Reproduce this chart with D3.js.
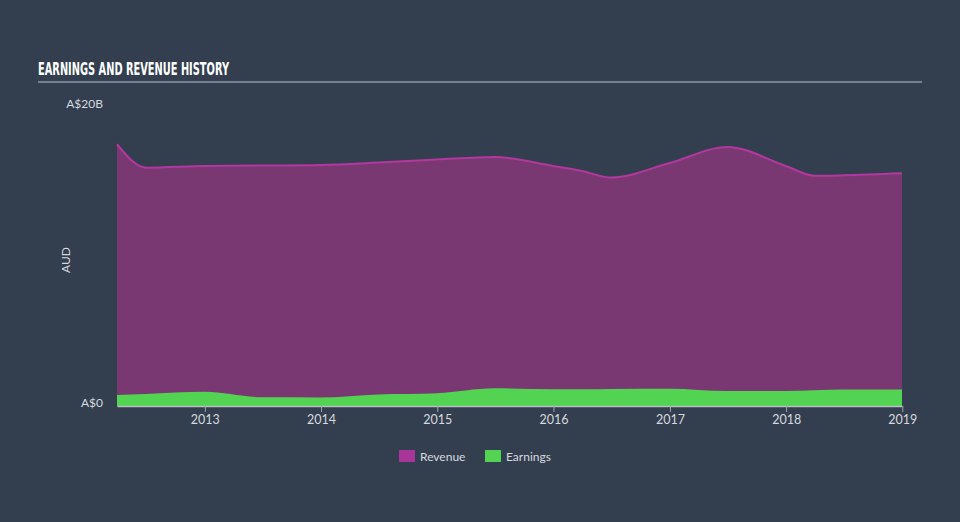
<!DOCTYPE html>
<html><head><meta charset="utf-8">
<script src="https://cdn.jsdelivr.net/npm/d3@7"></script>
<style>
html,body{margin:0;padding:0;background:#333f4f;}
svg{display:block;}
</style></head>
<body>
<svg id="chart" width="960" height="522"></svg>
<script>
const dates = ["2012-03-31","2012-06-30","2012-12-31","2013-06-30","2013-12-31","2014-06-30","2014-12-31","2015-06-30","2015-12-31","2016-03-31","2016-06-30","2016-12-31","2017-06-30","2017-12-31","2018-03-31","2018-06-30","2018-12-31"];
const revenue = [17.45,15.89,16.0,16.03,16.07,16.23,16.43,16.6,16.0,15.67,15.23,16.2,17.27,16.0,15.35,15.38,15.51];
const earnings = [0.73,0.8,0.95,0.58,0.57,0.77,0.85,1.18,1.11,1.11,1.13,1.15,1.0,1.0,1.05,1.1,1.1];
const yTickValues = [0, 20];
const yTickLabels = ["A$0", "A$20B"];
const xTickYears = [2013,2014,2015,2016,2017,2018,2019];
const seriesNames = ["Revenue","Earnings"];

const parse = d3.timeParse("%Y-%m-%d");
const data = dates.map((d,i)=>({date:parse(d), rev:revenue[i], earn:earnings[i]}));

const svg = d3.select("#chart");
const x = d3.scaleTime().domain([parse("2012-03-31"), parse("2018-12-31")]).range([117, 902]);
const y = d3.scaleLinear().domain([0, 20]).range([406, 106]);

// Title
svg.append("text").attr("x",38).attr("y",75)
  .attr("font-family","'DejaVu Sans Condensed','Liberation Sans Narrow','DejaVu Sans',sans-serif")
  .attr("font-weight","bold").attr("font-size",17.5).attr("fill","#ffffff")
  .attr("textLength",191).attr("lengthAdjust","spacingAndGlyphs")
  .text("EARNINGS AND REVENUE HISTORY");
svg.append("line").attr("x1",38).attr("x2",922).attr("y1",82).attr("y2",82)
  .attr("stroke","#8d98a5").attr("stroke-width",1.5);

const curve = d3.curveMonotoneX;
const areaRev = d3.area().x(d=>x(d.date)).y0(y(0)).y1(d=>y(d.rev)).curve(curve);
const lineRev = d3.line().x(d=>x(d.date)).y(d=>y(d.rev)).curve(curve);
const areaEarn = d3.area().x(d=>x(d.date)).y0(y(0)).y1(d=>y(d.earn)).curve(curve);

svg.append("path").datum(data).attr("d",areaRev).attr("fill","#7a3873");
svg.append("path").datum(data).attr("d",lineRev).attr("fill","none").attr("stroke","#b2389f").attr("stroke-width",2);
svg.append("path").datum(data).attr("d",areaEarn).attr("fill","#52d452");

// x axis
const xAxis = d3.axisBottom(x)
  .tickValues(xTickYears.map(yr=>new Date(yr,0,1)))
  .tickFormat(d3.timeFormat("%Y")).tickSize(6).tickSizeOuter(0);
const gx = svg.append("g").attr("transform",`translate(0,${y(0)})`).call(xAxis);
gx.select(".domain").attr("stroke","#b9c0c8").attr("stroke-width",1.5);
gx.selectAll(".tick line").attr("stroke","#9aa4af");
gx.selectAll(".tick text").attr("fill","#d5d9de").attr("font-size",12.5)
  .attr("font-family","Lato,'Open Sans',sans-serif").attr("y",7).attr("dy","0.85em");

// y labels
const gy = svg.append("g");
const yAxis = d3.axisLeft(y).tickValues(yTickValues).tickFormat((d,i)=>yTickLabels[i]).tickSize(0);
gy.attr("transform","translate(103,0)").call(yAxis);
gy.select(".domain").remove();
gy.selectAll(".tick text").attr("fill","#d5d9de").attr("font-size",12)
  .attr("font-family","Lato,'Open Sans',sans-serif").attr("x",0)
  .attr("dy",(d)=> d===0 ? "0.05em" : "0.15em");

svg.append("text").attr("transform","translate(70,260) rotate(-90)")
  .attr("text-anchor","middle").attr("fill","#d5d9de").attr("font-size",12)
  .attr("font-family","Lato,'Open Sans',sans-serif").text("AUD");

// legend
const legendColors = ["#a8359a","#52d452"];
const legendX = [399, 485];
seriesNames.forEach((n,i)=>{
  svg.append("rect").attr("x",legendX[i]).attr("y",450).attr("width",16).attr("height",12).attr("fill",legendColors[i]);
  svg.append("text").attr("x",legendX[i]+21).attr("y",460.5).attr("fill","#d5d9de")
    .attr("font-size",12).attr("font-family","Lato,'Open Sans',sans-serif").text(n);
});
</script>
</body></html>
